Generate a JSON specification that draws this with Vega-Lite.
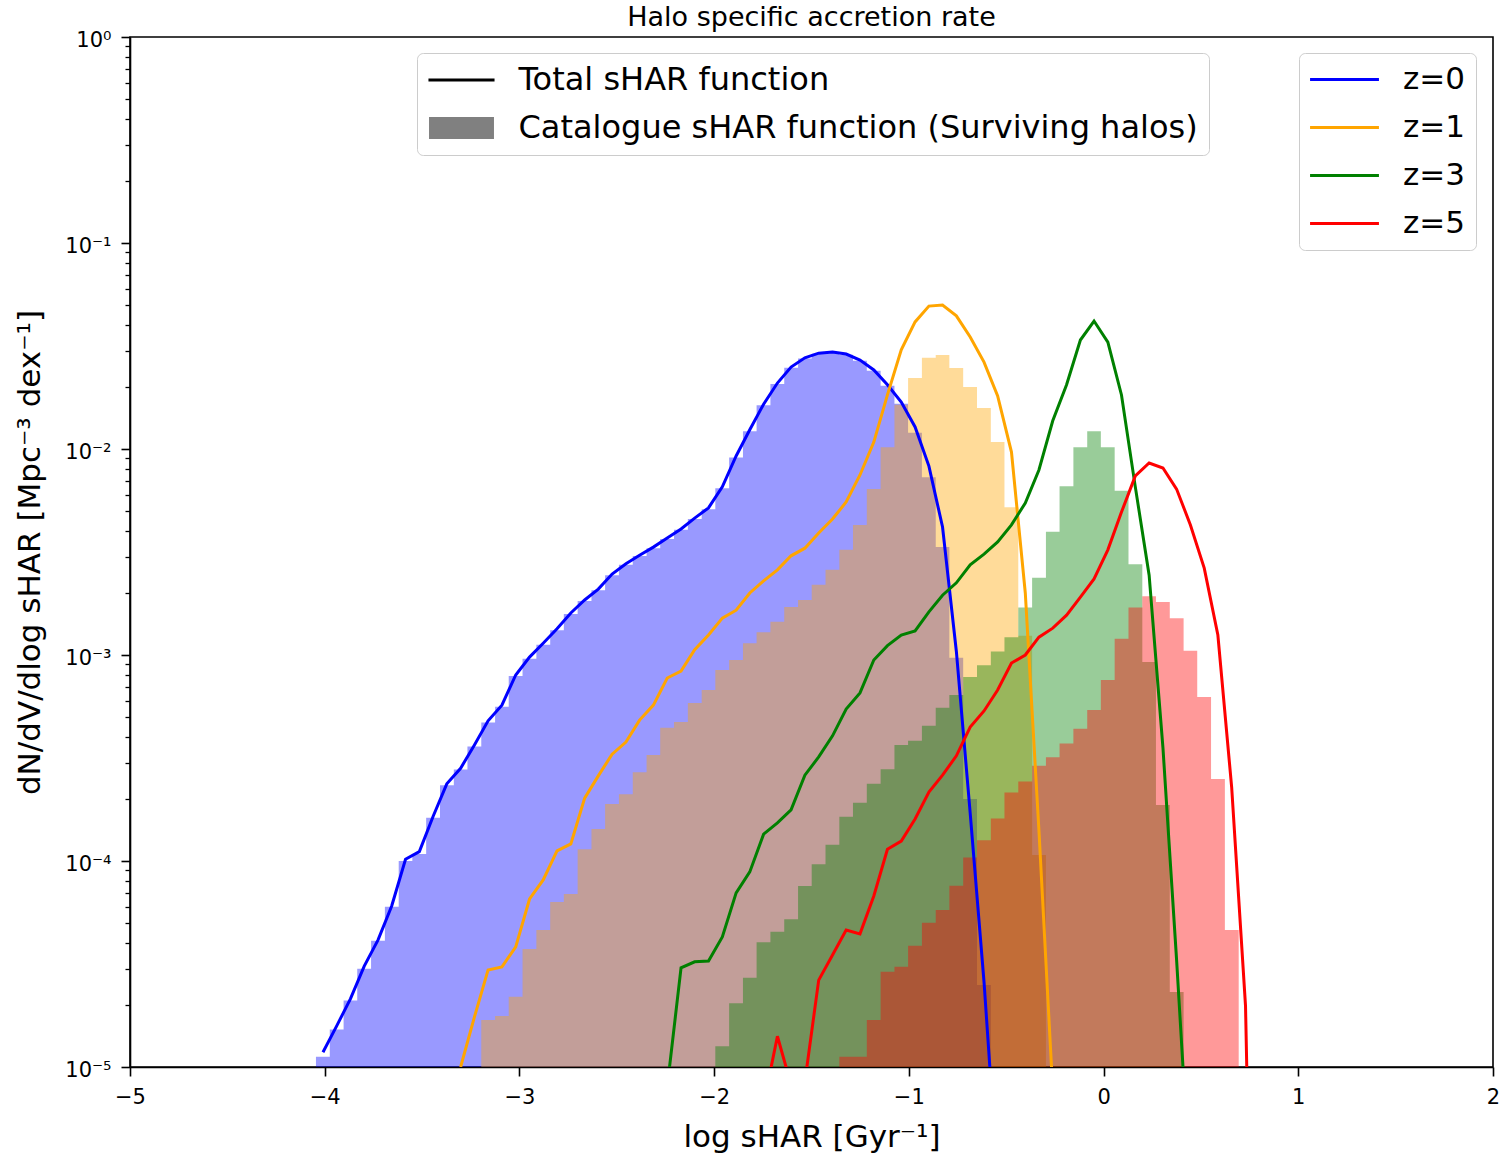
{
  "$schema": "https://vega.github.io/schema/vega-lite/v6.json",
  "width": 1363,
  "height": 1030,
  "autosize": {"type": "none"},
  "padding": {"left": 130, "top": 37, "right": 7, "bottom": 89},
  "background": "white",
  "title": {"text": "Halo specific accretion rate", "fontSize": 27, "fontWeight": "normal", "font": "DejaVu Sans", "color": "black", "offset": -3},
  "data": {"values": [
    {"z": "z=0", "lo": -4.045, "hi": -3.974, "mid": -4.009, "cat": 1.12e-5, "tot": 1.18e-5},
    {"z": "z=0", "lo": -3.974, "hi": -3.903, "mid": -3.939, "cat": 1.52e-5, "tot": 1.58e-5},
    {"z": "z=0", "lo": -3.903, "hi": -3.833, "mid": -3.868, "cat": 2.1e-5, "tot": 2.14e-5},
    {"z": "z=0", "lo": -3.833, "hi": -3.762, "mid": -3.797, "cat": 3.0e-5, "tot": 3.09e-5},
    {"z": "z=0", "lo": -3.762, "hi": -3.691, "mid": -3.726, "cat": 4.1e-5, "tot": 4.14e-5},
    {"z": "z=0", "lo": -3.691, "hi": -3.620, "mid": -3.656, "cat": 6.0e-5, "tot": 6.05e-5},
    {"z": "z=0", "lo": -3.620, "hi": -3.550, "mid": -3.585, "cat": 1.0e-4, "tot": 1.02e-4},
    {"z": "z=0", "lo": -3.550, "hi": -3.479, "mid": -3.514, "cat": 1.08e-4, "tot": 1.11e-4},
    {"z": "z=0", "lo": -3.479, "hi": -3.408, "mid": -3.443, "cat": 1.62e-4, "tot": 1.65e-4},
    {"z": "z=0", "lo": -3.408, "hi": -3.337, "mid": -3.373, "cat": 2.33e-4, "tot": 2.37e-4},
    {"z": "z=0", "lo": -3.337, "hi": -3.267, "mid": -3.302, "cat": 2.78e-4, "tot": 2.82e-4},
    {"z": "z=0", "lo": -3.267, "hi": -3.196, "mid": -3.231, "cat": 3.6e-4, "tot": 3.66e-4},
    {"z": "z=0", "lo": -3.196, "hi": -3.125, "mid": -3.161, "cat": 4.7e-4, "tot": 4.79e-4},
    {"z": "z=0", "lo": -3.125, "hi": -3.055, "mid": -3.090, "cat": 5.6e-4, "tot": 5.71e-4},
    {"z": "z=0", "lo": -3.055, "hi": -2.984, "mid": -3.019, "cat": 7.9e-4, "tot": 8.0e-4},
    {"z": "z=0", "lo": -2.984, "hi": -2.913, "mid": -2.948, "cat": 9.6e-4, "tot": 9.77e-4},
    {"z": "z=0", "lo": -2.913, "hi": -2.842, "mid": -2.878, "cat": 1.12e-3, "tot": 1.14e-3},
    {"z": "z=0", "lo": -2.842, "hi": -2.772, "mid": -2.807, "cat": 1.32e-3, "tot": 1.34e-3},
    {"z": "z=0", "lo": -2.772, "hi": -2.701, "mid": -2.736, "cat": 1.58e-3, "tot": 1.6e-3},
    {"z": "z=0", "lo": -2.701, "hi": -2.630, "mid": -2.665, "cat": 1.83e-3, "tot": 1.85e-3},
    {"z": "z=0", "lo": -2.630, "hi": -2.560, "mid": -2.595, "cat": 2.06e-3, "tot": 2.09e-3},
    {"z": "z=0", "lo": -2.560, "hi": -2.489, "mid": -2.524, "cat": 2.44e-3, "tot": 2.47e-3},
    {"z": "z=0", "lo": -2.489, "hi": -2.418, "mid": -2.453, "cat": 2.74e-3, "tot": 2.77e-3},
    {"z": "z=0", "lo": -2.418, "hi": -2.347, "mid": -2.383, "cat": 3.02e-3, "tot": 3.05e-3},
    {"z": "z=0", "lo": -2.347, "hi": -2.277, "mid": -2.312, "cat": 3.3e-3, "tot": 3.34e-3},
    {"z": "z=0", "lo": -2.277, "hi": -2.206, "mid": -2.241, "cat": 3.66e-3, "tot": 3.7e-3},
    {"z": "z=0", "lo": -2.206, "hi": -2.135, "mid": -2.170, "cat": 4.05e-3, "tot": 4.09e-3},
    {"z": "z=0", "lo": -2.135, "hi": -2.064, "mid": -2.100, "cat": 4.57e-3, "tot": 4.62e-3},
    {"z": "z=0", "lo": -2.064, "hi": -1.994, "mid": -2.029, "cat": 5.1e-3, "tot": 5.18e-3},
    {"z": "z=0", "lo": -1.994, "hi": -1.923, "mid": -1.958, "cat": 6.45e-3, "tot": 6.55e-3},
    {"z": "z=0", "lo": -1.923, "hi": -1.852, "mid": -1.887, "cat": 9.1e-3, "tot": 9.25e-3},
    {"z": "z=0", "lo": -1.852, "hi": -1.782, "mid": -1.817, "cat": 1.22e-2, "tot": 1.24e-2},
    {"z": "z=0", "lo": -1.782, "hi": -1.711, "mid": -1.746, "cat": 1.63e-2, "tot": 1.65e-2},
    {"z": "z=0", "lo": -1.711, "hi": -1.640, "mid": -1.675, "cat": 2.07e-2, "tot": 2.09e-2},
    {"z": "z=0", "lo": -1.640, "hi": -1.569, "mid": -1.605, "cat": 2.48e-2, "tot": 2.5e-2},
    {"z": "z=0", "lo": -1.569, "hi": -1.499, "mid": -1.534, "cat": 2.75e-2, "tot": 2.77e-2},
    {"z": "z=0", "lo": -1.499, "hi": -1.428, "mid": -1.463, "cat": 2.9e-2, "tot": 2.92e-2},
    {"z": "z=0", "lo": -1.428, "hi": -1.357, "mid": -1.392, "cat": 2.94e-2, "tot": 2.96e-2},
    {"z": "z=0", "lo": -1.357, "hi": -1.287, "mid": -1.322, "cat": 2.87e-2, "tot": 2.89e-2},
    {"z": "z=0", "lo": -1.287, "hi": -1.216, "mid": -1.251, "cat": 2.68e-2, "tot": 2.7e-2},
    {"z": "z=0", "lo": -1.216, "hi": -1.145, "mid": -1.180, "cat": 2.4e-2, "tot": 2.42e-2},
    {"z": "z=0", "lo": -1.145, "hi": -1.074, "mid": -1.110, "cat": 2.03e-2, "tot": 2.05e-2},
    {"z": "z=0", "lo": -1.074, "hi": -1.004, "mid": -1.039, "cat": 1.66e-2, "tot": 1.69e-2},
    {"z": "z=0", "lo": -1.004, "hi": -0.933, "mid": -0.968, "cat": 1.2e-2, "tot": 1.28e-2},
    {"z": "z=0", "lo": -0.933, "hi": -0.862, "mid": -0.897, "cat": 7.3e-3, "tot": 8.26e-3},
    {"z": "z=0", "lo": -0.862, "hi": -0.792, "mid": -0.827, "cat": 3.34e-3, "tot": 4.18e-3},
    {"z": "z=0", "lo": -0.792, "hi": -0.721, "mid": -0.756, "cat": 9.7e-4, "tot": 1.04e-3},
    {"z": "z=0", "lo": -0.721, "hi": -0.650, "mid": -0.685, "cat": 2.0e-4, "tot": 1.71e-4},
    {"z": "z=0", "lo": -0.650, "hi": -0.579, "mid": -0.614, "cat": 2.5e-5, "tot": 2.59e-5},
    {"z": "z=0", "mid": -0.544, "tot": 2.8e-6},

    {"z": "z=1", "mid": -3.302, "tot": 1.0e-5},
    {"z": "z=1", "mid": -3.231, "tot": 1.75e-5},
    {"z": "z=1", "lo": -3.196, "hi": -3.125, "mid": -3.161, "cat": 1.69e-5, "tot": 2.96e-5},
    {"z": "z=1", "lo": -3.125, "hi": -3.055, "mid": -3.090, "cat": 1.77e-5, "tot": 3.06e-5},
    {"z": "z=1", "lo": -3.055, "hi": -2.984, "mid": -3.019, "cat": 2.19e-5, "tot": 3.83e-5},
    {"z": "z=1", "lo": -2.984, "hi": -2.913, "mid": -2.948, "cat": 3.74e-5, "tot": 6.54e-5},
    {"z": "z=1", "lo": -2.913, "hi": -2.842, "mid": -2.878, "cat": 4.62e-5, "tot": 8.09e-5},
    {"z": "z=1", "lo": -2.842, "hi": -2.772, "mid": -2.807, "cat": 6.32e-5, "tot": 1.12e-4},
    {"z": "z=1", "lo": -2.772, "hi": -2.701, "mid": -2.736, "cat": 6.92e-5, "tot": 1.21e-4},
    {"z": "z=1", "lo": -2.701, "hi": -2.630, "mid": -2.665, "cat": 1.14e-4, "tot": 2.02e-4},
    {"z": "z=1", "lo": -2.630, "hi": -2.560, "mid": -2.595, "cat": 1.43e-4, "tot": 2.59e-4},
    {"z": "z=1", "lo": -2.560, "hi": -2.489, "mid": -2.524, "cat": 1.89e-4, "tot": 3.3e-4},
    {"z": "z=1", "lo": -2.489, "hi": -2.418, "mid": -2.453, "cat": 2.11e-4, "tot": 3.78e-4},
    {"z": "z=1", "lo": -2.418, "hi": -2.347, "mid": -2.383, "cat": 2.7e-4, "tot": 4.83e-4},
    {"z": "z=1", "lo": -2.347, "hi": -2.277, "mid": -2.312, "cat": 3.27e-4, "tot": 5.71e-4},
    {"z": "z=1", "lo": -2.277, "hi": -2.206, "mid": -2.241, "cat": 4.43e-4, "tot": 7.73e-4},
    {"z": "z=1", "lo": -2.206, "hi": -2.135, "mid": -2.170, "cat": 4.73e-4, "tot": 8.36e-4},
    {"z": "z=1", "lo": -2.135, "hi": -2.064, "mid": -2.100, "cat": 5.85e-4, "tot": 1.06e-3},
    {"z": "z=1", "lo": -2.064, "hi": -1.994, "mid": -2.029, "cat": 6.76e-4, "tot": 1.25e-3},
    {"z": "z=1", "lo": -1.994, "hi": -1.923, "mid": -1.958, "cat": 8.45e-4, "tot": 1.51e-3},
    {"z": "z=1", "lo": -1.923, "hi": -1.852, "mid": -1.887, "cat": 9.46e-4, "tot": 1.65e-3},
    {"z": "z=1", "lo": -1.852, "hi": -1.782, "mid": -1.817, "cat": 1.14e-3, "tot": 2.0e-3},
    {"z": "z=1", "lo": -1.782, "hi": -1.711, "mid": -1.746, "cat": 1.29e-3, "tot": 2.29e-3},
    {"z": "z=1", "lo": -1.711, "hi": -1.640, "mid": -1.675, "cat": 1.45e-3, "tot": 2.59e-3},
    {"z": "z=1", "lo": -1.640, "hi": -1.569, "mid": -1.605, "cat": 1.71e-3, "tot": 3.03e-3},
    {"z": "z=1", "lo": -1.569, "hi": -1.499, "mid": -1.534, "cat": 1.85e-3, "tot": 3.3e-3},
    {"z": "z=1", "lo": -1.499, "hi": -1.428, "mid": -1.463, "cat": 2.19e-3, "tot": 3.91e-3},
    {"z": "z=1", "lo": -1.428, "hi": -1.357, "mid": -1.392, "cat": 2.59e-3, "tot": 4.57e-3},
    {"z": "z=1", "lo": -1.357, "hi": -1.287, "mid": -1.322, "cat": 3.24e-3, "tot": 5.53e-3},
    {"z": "z=1", "lo": -1.287, "hi": -1.216, "mid": -1.251, "cat": 4.28e-3, "tot": 7.48e-3},
    {"z": "z=1", "lo": -1.216, "hi": -1.145, "mid": -1.180, "cat": 6.39e-3, "tot": 1.08e-2},
    {"z": "z=1", "lo": -1.145, "hi": -1.074, "mid": -1.110, "cat": 1.02e-2, "tot": 1.83e-2},
    {"z": "z=1", "lo": -1.074, "hi": -1.004, "mid": -1.039, "cat": 1.64e-2, "tot": 3.03e-2},
    {"z": "z=1", "lo": -1.004, "hi": -0.933, "mid": -0.968, "cat": 2.21e-2, "tot": 4.14e-2},
    {"z": "z=1", "lo": -0.933, "hi": -0.862, "mid": -0.897, "cat": 2.77e-2, "tot": 4.94e-2},
    {"z": "z=1", "lo": -0.862, "hi": -0.792, "mid": -0.827, "cat": 2.86e-2, "tot": 5.0e-2},
    {"z": "z=1", "lo": -0.792, "hi": -0.721, "mid": -0.756, "cat": 2.47e-2, "tot": 4.43e-2},
    {"z": "z=1", "lo": -0.721, "hi": -0.650, "mid": -0.685, "cat": 2.0e-2, "tot": 3.5e-2},
    {"z": "z=1", "lo": -0.650, "hi": -0.579, "mid": -0.614, "cat": 1.58e-2, "tot": 2.64e-2},
    {"z": "z=1", "lo": -0.579, "hi": -0.509, "mid": -0.544, "cat": 1.08e-2, "tot": 1.81e-2},
    {"z": "z=1", "lo": -0.509, "hi": -0.438, "mid": -0.473, "cat": 5.22e-3, "tot": 9.66e-3},
    {"z": "z=1", "lo": -0.438, "hi": -0.367, "mid": -0.402, "cat": 1.24e-3, "tot": 2.0e-3},
    {"z": "z=1", "lo": -0.367, "hi": -0.296, "mid": -0.332, "cat": 1.07e-4, "tot": 1.41e-4},
    {"z": "z=1", "mid": -0.261, "tot": 7.7e-6},

    {"z": "z=3", "mid": -2.241, "tot": 8e-6},
    {"z": "z=3", "mid": -2.170, "tot": 3.03e-5},
    {"z": "z=3", "mid": -2.100, "tot": 3.24e-5},
    {"z": "z=3", "mid": -2.029, "tot": 3.27e-5},
    {"z": "z=3", "lo": -1.994, "hi": -1.923, "mid": -1.958, "cat": 1.26e-5, "tot": 4.28e-5},
    {"z": "z=3", "lo": -1.923, "hi": -1.852, "mid": -1.887, "cat": 2.04e-5, "tot": 7.0e-5},
    {"z": "z=3", "lo": -1.852, "hi": -1.782, "mid": -1.817, "cat": 2.71e-5, "tot": 8.85e-5},
    {"z": "z=3", "lo": -1.782, "hi": -1.711, "mid": -1.746, "cat": 4.03e-5, "tot": 1.35e-4},
    {"z": "z=3", "lo": -1.711, "hi": -1.640, "mid": -1.675, "cat": 4.54e-5, "tot": 1.53e-4},
    {"z": "z=3", "lo": -1.640, "hi": -1.569, "mid": -1.605, "cat": 5.21e-5, "tot": 1.77e-4},
    {"z": "z=3", "lo": -1.569, "hi": -1.499, "mid": -1.534, "cat": 7.57e-5, "tot": 2.61e-4},
    {"z": "z=3", "lo": -1.499, "hi": -1.428, "mid": -1.463, "cat": 9.64e-5, "tot": 3.2e-4},
    {"z": "z=3", "lo": -1.428, "hi": -1.357, "mid": -1.392, "cat": 1.2e-4, "tot": 4.05e-4},
    {"z": "z=3", "lo": -1.357, "hi": -1.287, "mid": -1.322, "cat": 1.64e-4, "tot": 5.47e-4},
    {"z": "z=3", "lo": -1.287, "hi": -1.216, "mid": -1.251, "cat": 1.92e-4, "tot": 6.55e-4},
    {"z": "z=3", "lo": -1.216, "hi": -1.145, "mid": -1.180, "cat": 2.37e-4, "tot": 9.46e-4},
    {"z": "z=3", "lo": -1.145, "hi": -1.074, "mid": -1.110, "cat": 2.79e-4, "tot": 1.11e-3},
    {"z": "z=3", "lo": -1.074, "hi": -1.004, "mid": -1.039, "cat": 3.66e-4, "tot": 1.25e-3},
    {"z": "z=3", "lo": -1.004, "hi": -0.933, "mid": -0.968, "cat": 3.83e-4, "tot": 1.31e-3},
    {"z": "z=3", "lo": -0.933, "hi": -0.862, "mid": -0.897, "cat": 4.54e-4, "tot": 1.62e-3},
    {"z": "z=3", "lo": -0.862, "hi": -0.792, "mid": -0.827, "cat": 5.55e-4, "tot": 1.95e-3},
    {"z": "z=3", "lo": -0.792, "hi": -0.721, "mid": -0.756, "cat": 6.4e-4, "tot": 2.24e-3},
    {"z": "z=3", "lo": -0.721, "hi": -0.650, "mid": -0.685, "cat": 7.82e-4, "tot": 2.74e-3},
    {"z": "z=3", "lo": -0.650, "hi": -0.579, "mid": -0.614, "cat": 8.93e-4, "tot": 3.09e-3},
    {"z": "z=3", "lo": -0.579, "hi": -0.509, "mid": -0.544, "cat": 1.04e-3, "tot": 3.54e-3},
    {"z": "z=3", "lo": -0.509, "hi": -0.438, "mid": -0.473, "cat": 1.22e-3, "tot": 4.28e-3},
    {"z": "z=3", "lo": -0.438, "hi": -0.367, "mid": -0.402, "cat": 1.7e-3, "tot": 5.47e-3},
    {"z": "z=3", "lo": -0.367, "hi": -0.296, "mid": -0.332, "cat": 2.37e-3, "tot": 7.91e-3},
    {"z": "z=3", "lo": -0.296, "hi": -0.226, "mid": -0.261, "cat": 3.97e-3, "tot": 1.37e-2},
    {"z": "z=3", "lo": -0.226, "hi": -0.155, "mid": -0.190, "cat": 6.59e-3, "tot": 2.05e-2},
    {"z": "z=3", "lo": -0.155, "hi": -0.084, "mid": -0.119, "cat": 1.02e-2, "tot": 3.38e-2},
    {"z": "z=3", "lo": -0.084, "hi": -0.014, "mid": -0.049, "cat": 1.22e-2, "tot": 4.18e-2},
    {"z": "z=3", "lo": -0.014, "hi": 0.057, "mid": 0.022, "cat": 1.02e-2, "tot": 3.3e-2},
    {"z": "z=3", "lo": 0.057, "hi": 0.128, "mid": 0.092, "cat": 6.27e-3, "tot": 1.83e-2},
    {"z": "z=3", "lo": 0.128, "hi": 0.199, "mid": 0.163, "cat": 2.76e-3, "tot": 6.55e-3},
    {"z": "z=3", "lo": 0.199, "hi": 0.269, "mid": 0.234, "cat": 9.25e-4, "tot": 2.44e-3},
    {"z": "z=3", "lo": 0.269, "hi": 0.340, "mid": 0.305, "cat": 1.87e-4, "tot": 3.54e-4},
    {"z": "z=3", "lo": 0.340, "hi": 0.411, "mid": 0.375, "cat": 2.31e-5, "tot": 3.31e-5},
    {"z": "z=3", "mid": 0.446, "tot": 2.5e-6},

    {"z": "z=5", "mid": -1.746, "tot": 6.6e-6},
    {"z": "z=5", "mid": -1.675, "tot": 1.41e-5},
    {"z": "z=5", "mid": -1.605, "tot": 8.2e-6},
    {"z": "z=5", "mid": -1.534, "tot": 8.5e-6},
    {"z": "z=5", "mid": -1.463, "tot": 2.64e-5},
    {"z": "z=5", "mid": -1.392, "tot": 3.5e-5},
    {"z": "z=5", "lo": -1.357, "hi": -1.287, "mid": -1.322, "cat": 1.12e-5, "tot": 4.62e-5},
    {"z": "z=5", "lo": -1.287, "hi": -1.216, "mid": -1.251, "cat": 1.12e-5, "tot": 4.43e-5},
    {"z": "z=5", "lo": -1.216, "hi": -1.145, "mid": -1.180, "cat": 1.69e-5, "tot": 6.76e-5},
    {"z": "z=5", "lo": -1.145, "hi": -1.074, "mid": -1.110, "cat": 2.9e-5, "tot": 1.14e-4},
    {"z": "z=5", "lo": -1.074, "hi": -1.004, "mid": -1.039, "cat": 3.07e-5, "tot": 1.25e-4},
    {"z": "z=5", "lo": -1.004, "hi": -0.933, "mid": -0.968, "cat": 3.88e-5, "tot": 1.6e-4},
    {"z": "z=5", "lo": -0.933, "hi": -0.862, "mid": -0.897, "cat": 5.01e-5, "tot": 2.16e-4},
    {"z": "z=5", "lo": -0.862, "hi": -0.792, "mid": -0.827, "cat": 5.78e-5, "tot": 2.61e-4},
    {"z": "z=5", "lo": -0.792, "hi": -0.721, "mid": -0.756, "cat": 7.59e-5, "tot": 3.24e-4},
    {"z": "z=5", "lo": -0.721, "hi": -0.650, "mid": -0.685, "cat": 1.04e-4, "tot": 4.47e-4},
    {"z": "z=5", "lo": -0.650, "hi": -0.579, "mid": -0.614, "cat": 1.26e-4, "tot": 5.35e-4},
    {"z": "z=5", "lo": -0.579, "hi": -0.509, "mid": -0.544, "cat": 1.61e-4, "tot": 6.76e-4},
    {"z": "z=5", "lo": -0.509, "hi": -0.438, "mid": -0.473, "cat": 2.15e-4, "tot": 9.14e-4},
    {"z": "z=5", "lo": -0.438, "hi": -0.367, "mid": -0.402, "cat": 2.43e-4, "tot": 1.0e-3},
    {"z": "z=5", "lo": -0.367, "hi": -0.296, "mid": -0.332, "cat": 2.9e-4, "tot": 1.22e-3},
    {"z": "z=5", "lo": -0.296, "hi": -0.226, "mid": -0.261, "cat": 3.19e-4, "tot": 1.35e-3},
    {"z": "z=5", "lo": -0.226, "hi": -0.155, "mid": -0.190, "cat": 3.72e-4, "tot": 1.56e-3},
    {"z": "z=5", "lo": -0.155, "hi": -0.084, "mid": -0.119, "cat": 4.38e-4, "tot": 1.91e-3},
    {"z": "z=5", "lo": -0.084, "hi": -0.014, "mid": -0.049, "cat": 5.41e-4, "tot": 2.34e-3},
    {"z": "z=5", "lo": -0.014, "hi": 0.057, "mid": 0.022, "cat": 7.57e-4, "tot": 3.24e-3},
    {"z": "z=5", "lo": 0.057, "hi": 0.128, "mid": 0.092, "cat": 1.2e-3, "tot": 4.94e-3},
    {"z": "z=5", "lo": 0.128, "hi": 0.199, "mid": 0.163, "cat": 1.7e-3, "tot": 7.4e-3},
    {"z": "z=5", "lo": 0.199, "hi": 0.269, "mid": 0.234, "cat": 1.93e-3, "tot": 8.55e-3},
    {"z": "z=5", "lo": 0.269, "hi": 0.340, "mid": 0.305, "cat": 1.81e-3, "tot": 8.09e-3},
    {"z": "z=5", "lo": 0.340, "hi": 0.411, "mid": 0.375, "cat": 1.51e-3, "tot": 6.39e-3},
    {"z": "z=5", "lo": 0.411, "hi": 0.481, "mid": 0.446, "cat": 1.05e-3, "tot": 4.28e-3},
    {"z": "z=5", "lo": 0.481, "hi": 0.552, "mid": 0.517, "cat": 6.25e-4, "tot": 2.64e-3},
    {"z": "z=5", "lo": 0.552, "hi": 0.623, "mid": 0.587, "cat": 2.5e-4, "tot": 1.25e-3},
    {"z": "z=5", "lo": 0.623, "hi": 0.694, "mid": 0.658, "cat": 4.62e-5, "tot": 2.27e-4},
    {"z": "z=5", "mid": 0.729, "tot": 1.98e-5},
    {"z": "z=5", "mid": 0.800, "tot": 1e-8}
  ]},
  "layer": [
    {
      "transform": [
        {"filter": "isValid(datum.cat)"},
        {"fold": ["lo", "hi"], "as": ["edge", "xe"]}
      ],
      "mark": {"type": "area", "interpolate": "linear", "fillOpacity": 0.4, "strokeWidth": 0},
      "encoding": {
        "x": {
          "field": "xe", "type": "quantitative",
          "scale": {"domain": [-5, 2], "nice": false, "zero": false},
          "axis": {"title": "log sHAR [Gyr⁻¹]", "values": [-5, -4, -3, -2, -1, 0, 1, 2], "format": "d", "labelFlush": false, "labelOverlap": false, "tickSize": 9, "labelPadding": 10, "titlePadding": 15}
        },
        "y": {
          "field": "cat", "type": "quantitative", "stack": null,
          "scale": {"type": "log", "domain": [1e-5, 1], "nice": false},
          "axis": {
            "title": "dN/dV/dlog sHAR [Mpc⁻³ dex⁻¹]",
            "values": [1e-5, 1e-4, 1e-3, 1e-2, 1e-1, 1],
            "labelExpr": "datum.value > 0.5 ? '10⁰' : datum.value > 0.05 ? '10⁻¹' : datum.value > 0.005 ? '10⁻²' : datum.value > 0.0005 ? '10⁻³' : datum.value > 0.00005 ? '10⁻⁴' : '10⁻⁵'",
            "labelOverlap": false, "tickSize": 9, "labelPadding": 10, "labelOffset": 3, "titlePadding": 18
          }
        },
        "y2": {"datum": 1e-5},
        "fill": {
          "field": "z", "type": "nominal",
          "scale": {"range": ["#0000ff", "#ffa500", "#008000", "#ff0000"]},
          "legend": null
        }
      }
    },
    {
      "mark": {"type": "line", "strokeWidth": 3, "clip": true},
      "encoding": {
        "x": {
          "field": "mid", "type": "quantitative",
          "scale": {"domain": [-5, 2], "nice": false, "zero": false},
          "axis": {"title": "log sHAR [Gyr⁻¹]", "values": [-5, -4, -3, -2, -1, 0, 1, 2], "format": "d", "labelFlush": false, "labelOverlap": false, "tickSize": 9, "labelPadding": 10, "titlePadding": 15}
        },
        "y": {"field": "tot", "type": "quantitative", "scale": {"type": "log", "domain": [1e-5, 1], "nice": false}, "axis": null},
        "stroke": {
          "field": "z", "type": "nominal",
          "scale": {"domain": ["z=0", "z=1", "z=3", "z=5"], "range": ["#0000ff", "#ffa500", "#008000", "#ff0000"]},
          "legend": {
            "orient": "none", "legendX": 1169, "legendY": 16, "title": null,
            "symbolType": "M-2.46,0H2.46", "symbolSize": 784, "symbolStrokeWidth": 3,
            "symbolOffset": 19, "labelOffset": 43
          }
        }
      }
    },
    {
      "data": {"values": [
        {"kind": "Total sHAR function"},
        {"kind": "Catalogue sHAR function (Surviving halos)"}
      ]},
      "mark": {"type": "point", "filled": true, "opacity": 1, "clip": true},
      "encoding": {
        "y": {
          "datum": 1e-9, "type": "quantitative",
          "scale": {"type": "log", "domain": [1e-5, 1], "nice": false},
          "axis": {
            "orient": "left", "title": null, "labels": false, "domain": false, "grid": false,
            "tickSize": 5, "tickWidth": 1.3,
            "values": [2e-5, 3e-5, 4e-5, 5e-5, 6e-5, 7e-5, 8e-5, 9e-5, 2e-4, 3e-4, 4e-4, 5e-4, 6e-4, 7e-4, 8e-4, 9e-4, 2e-3, 3e-3, 4e-3, 5e-3, 6e-3, 7e-3, 8e-3, 9e-3, 2e-2, 3e-2, 4e-2, 5e-2, 6e-2, 7e-2, 8e-2, 9e-2, 0.2, 0.3, 0.4, 0.5, 0.6, 0.7, 0.8, 0.9]
          }
        },
        "color": {
          "field": "kind", "type": "nominal",
          "scale": {"domain": ["Total sHAR function", "Catalogue sHAR function (Surviving halos)"], "range": ["black", "#808080"]},
          "legend": {
            "orient": "none", "legendX": 287, "legendY": 16, "title": null,
            "labelFontSize": 32,
            "symbolSize": 784, "symbolStrokeWidth": 0, "symbolOpacity": 1,
            "symbolOffset": 17.5, "labelOffset": 41
          }
        },
        "shape": {
          "field": "kind", "type": "nominal",
          "scale": {"domain": ["Total sHAR function", "Catalogue sHAR function (Surviving halos)"], "range": ["M-2.36,-0.107H2.36V0.107H-2.36Z", "M-2.32,-0.786H2.32V0.786H-2.32Z"]}
        }
      }
    }
  ],
  "resolve": {"axis": {"y": "independent"}},
  "config": {
    "font": "DejaVu Sans",
    "view": {"stroke": "black", "strokeWidth": 1.6},
    "axis": {
      "grid": false, "domainColor": "black", "domainWidth": 1.6, "tickColor": "black", "tickWidth": 1.6,
      "labelColor": "black", "titleColor": "black", "labelFont": "DejaVu Sans", "titleFont": "DejaVu Sans",
      "titleFontWeight": "normal", "labelFontSize": 21, "titleFontSize": 31
    },
    "legend": {
      "labelFont": "DejaVu Sans", "labelFontSize": 31, "labelColor": "black", "labelLimit": 1000,
      "strokeColor": "#cccccc", "fillColor": "white", "cornerRadius": 6, "padding": 11, "rowPadding": 16
    }
  }
}
